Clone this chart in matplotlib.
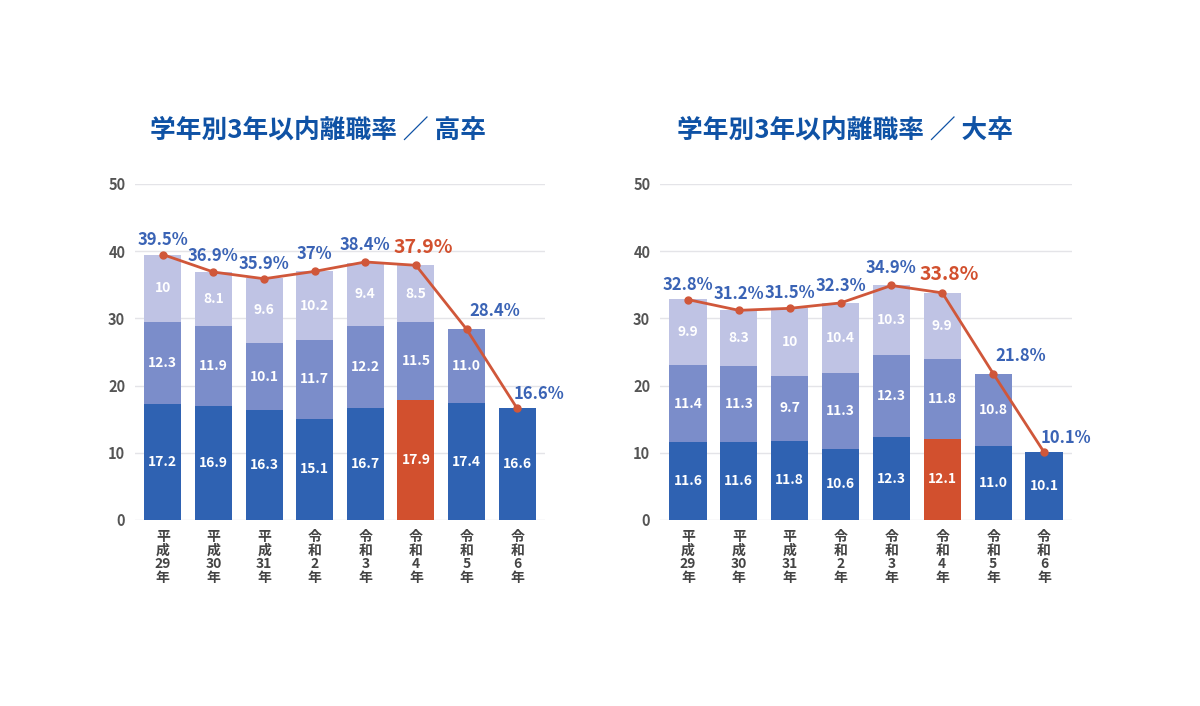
import matplotlib
matplotlib.use('Agg')
import matplotlib.pyplot as plt
import numpy as np

plt.rcParams['font.family'] = ['Noto Sans CJK JP', 'DejaVu Sans']

# x categories (shared)
years = ['平成29年', '平成30年', '平成31年', '令和2年', '令和3年', '令和4年', '令和5年', '令和6年']

# 高卒
hs_y1 = [17.2, 16.9, 16.3, 15.1, 16.7, 17.9, 17.4, 16.6]
hs_y2 = [12.3, 11.9, 10.1, 11.7, 12.2, 11.5, 11.0, 0]
hs_y3 = [10, 8.1, 9.6, 10.2, 9.4, 8.5, 0, 0]
hs_total = [39.5, 36.9, 35.9, 37, 38.4, 37.9, 28.4, 16.6]
hs_y1_lbl = ['17.2', '16.9', '16.3', '15.1', '16.7', '17.9', '17.4', '16.6']
hs_y2_lbl = ['12.3', '11.9', '10.1', '11.7', '12.2', '11.5', '11.0', '']
hs_y3_lbl = ['10', '8.1', '9.6', '10.2', '9.4', '8.5', '', '']
hs_tot_lbl = ['39.5%', '36.9%', '35.9%', '37%', '38.4%', '37.9%', '28.4%', '16.6%']

# 大卒
uni_y1 = [11.6, 11.6, 11.8, 10.6, 12.3, 12.1, 11.0, 10.1]
uni_y2 = [11.4, 11.3, 9.7, 11.3, 12.3, 11.8, 10.8, 0]
uni_y3 = [9.9, 8.3, 10, 10.4, 10.3, 9.9, 0, 0]
uni_total = [32.8, 31.2, 31.5, 32.3, 34.9, 33.8, 21.8, 10.1]
uni_y1_lbl = ['11.6', '11.6', '11.8', '10.6', '12.3', '12.1', '11.0', '10.1']
uni_y2_lbl = ['11.4', '11.3', '9.7', '11.3', '12.3', '11.8', '10.8', '']
uni_y3_lbl = ['9.9', '8.3', '10', '10.4', '10.3', '9.9', '', '']
uni_tot_lbl = ['32.8%', '31.2%', '31.5%', '32.3%', '34.9%', '33.8%', '21.8%', '10.1%']

highlight = 5

C1 = '#2f62b2'
C2 = '#7b8dca'
C3 = '#bfc3e4'
RED = '#d2502e'
LINE = '#d0573a'
PCT = '#3a63b5'
TITLE = '#0f52a5'

# label offsets in pixels (dx, dy)
offs = [(0, 15), (0, 16), (0, 15), (0, 17), (0, 17), (7, 18), (28, 18), (22, 14)]


def draw(ax, y1, y2, y3, total, l1, l2, l3, lt):
    x = np.arange(len(years))
    w = 0.73
    y1 = np.array(y1); y2 = np.array(y2); y3 = np.array(y3)
    cols = [RED if i == highlight else C1 for i in x]
    ax.bar(x, y1, w, color=cols, zorder=2)
    ax.bar(x, y2, w, bottom=y1, color=C2, zorder=2)
    ax.bar(x, y3, w, bottom=y1 + y2, color=C3, zorder=2)
    for i in x:
        ax.text(i, y1[i] / 2, l1[i], ha='center', va='center', color='white',
                fontsize=10, fontweight='bold', zorder=4)
        if l2[i]:
            ax.text(i, y1[i] + y2[i] / 2, l2[i], ha='center', va='center', color='white',
                    fontsize=10, fontweight='bold', zorder=4)
        if l3[i]:
            ax.text(i, y1[i] + y2[i] + y3[i] / 2, l3[i], ha='center', va='center', color='white',
                    fontsize=10, fontweight='bold', zorder=4)
    ax.plot(x, total, color=LINE, lw=2, marker='o', ms=5, zorder=3)
    for i in x:
        dx, dy = offs[i]
        if i == highlight:
            ax.annotate(lt[i], (i, total[i]), xytext=(dx, dy), textcoords='offset pixels',
                        ha='center', va='center', color=RED, fontsize=14, fontweight='bold', zorder=5)
        else:
            ax.annotate(lt[i], (i, total[i]), xytext=(dx, dy), textcoords='offset pixels',
                        ha='center', va='center', color=PCT, fontsize=12, fontweight='bold', zorder=5)
    ax.set_xlim(-0.55, 7.55)
    ax.set_ylim(0, 50)
    ax.set_yticks([0, 10, 20, 30, 40, 50])
    ax.grid(axis='y', color='#e4e4e8', lw=1, zorder=0)
    ax.set_axisbelow(True)
    for s in ax.spines.values():
        s.set_visible(False)
    ax.tick_params(axis='both', length=0, colors='#444444', labelsize=10.5)
    ax.tick_params(axis='y', pad=7)
    ax.tick_params(axis='x', pad=7)
    ax.set_xticks(x)
    labs = []
    for y in years:
        num = ''.join(c for c in y if c.isdigit())
        labs.append('\n'.join([y[0], y[1], num, '年']))
    ax.set_xticklabels(labs, linespacing=0.98, fontsize=10, fontweight='bold', color='#444444')
    for t in ax.get_yticklabels():
        t.set_fontweight('bold')
        t.set_color('#555555')


fig = plt.figure(figsize=(12, 7.06), dpi=100)
ax1 = fig.add_axes([135 / 1200, 1 - 520 / 706, 410 / 1200, 336 / 706])
ax2 = fig.add_axes([660 / 1200, 1 - 520 / 706, 412 / 1200, 336 / 706])

draw(ax1, hs_y1, hs_y2, hs_y3, hs_total, hs_y1_lbl, hs_y2_lbl, hs_y3_lbl, hs_tot_lbl)
draw(ax2, uni_y1, uni_y2, uni_y3, uni_total, uni_y1_lbl, uni_y2_lbl, uni_y3_lbl, uni_tot_lbl)

fig.text(150 / 1200, 1 - 130 / 706, '学年別3年以内離職率 ／ 高卒', ha='left', va='center',
         fontsize=18.5, fontweight='bold', color=TITLE)
fig.text(677 / 1200, 1 - 130 / 706, '学年別3年以内離職率 ／ 大卒', ha='left', va='center',
         fontsize=18.5, fontweight='bold', color=TITLE)

fig.savefig('out.png', dpi=100)
